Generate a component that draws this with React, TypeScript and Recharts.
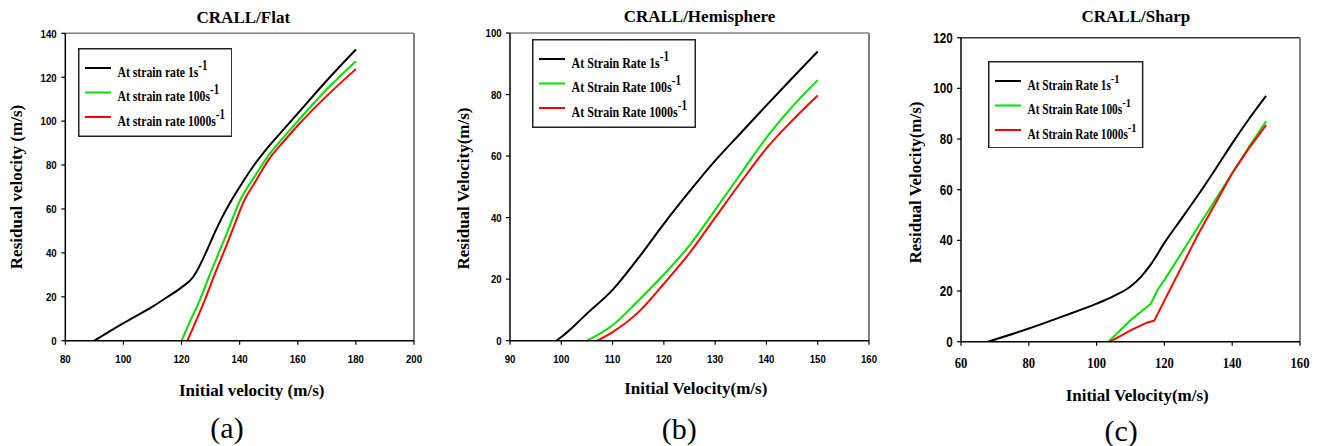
import React from 'react';
import { LineChart, Line, XAxis, YAxis, ReferenceLine, Legend } from 'recharts';

// ---------- data (x: initial velocity, y: residual velocity) ----------
const flatRate1 = [[90, 0], [100, 8], [110, 15.5], [115, 19.8], [120, 24.3], [124, 29], [126, 33.5], [128, 39], [131, 48], [134, 56.3], [137, 63.5], [140, 70], [145, 80], [150, 88.5], [155, 96], [160, 103.5], [170, 118.5], [180, 132.6]];
const flatRate100 = [[120, 0], [123, 9], [126.3, 18.5], [130, 31], [133.2, 41.2], [136.5, 52], [140, 63.5], [145, 74.5], [150, 84.5], [155, 92.5], [160, 100], [170, 114.5], [180, 127.3]];
const flatRate1000 = [[122, 0], [125, 9], [128, 18.5], [131.5, 30.5], [134.8, 41.2], [138, 52], [141.6, 63.9], [145, 71.5], [150, 82.5], [155, 90.5], [160, 98], [170, 111.5], [180, 123.7]];

const hemiRate1 = [[99, 0], [100, 1.2], [105, 8.8], [110, 16.5], [115, 26.8], [120, 38], [125, 48.5], [130, 58.5], [135, 67.5], [140, 76.5], [145, 85.3], [150, 94]];
const hemiRate100 = [[105, 0], [110, 5], [115, 13], [120, 21.5], [125, 31], [130, 42.5], [135, 54.3], [140, 66], [145, 76], [150, 84.7]];
const hemiRate1000 = [[107, 0], [110, 2.8], [115, 9.2], [120, 18.5], [125, 28.5], [130, 40], [135, 51.5], [140, 62.5], [145, 71.5], [150, 79.7]];

const sharpRate1 = [[68, 0], [80, 5.2], [90, 10], [100, 15], [105, 18], [110, 21.8], [113, 25.5], [116, 30.5], [120, 39], [125, 48.5], [130, 58], [135, 68], [140, 78.3], [145, 88], [150, 97]];
const sharpRate100 = [[103.5, 0], [110, 8.5], [116, 15], [118, 20.5], [120, 24.3], [130, 45.5], [140, 66.5], [145, 77], [150, 87]];
const sharpRate1000 = [[104, 0], [110, 4.5], [115, 7.6], [117, 8.3], [120, 16.2], [130, 42.5], [140, 66.5], [145, 76.5], [150, 85.5]];

const flatXTicks = [80, 100, 120, 140, 160, 180, 200];
const flatYTicks = [0, 20, 40, 60, 80, 100, 120, 140];
const hemiXTicks = [90, 100, 110, 120, 130, 140, 150, 160];
const hemiYTicks = [0, 20, 40, 60, 80, 100];
const sharpXTicks = [60, 80, 100, 120, 140, 160];
const sharpYTicks = [0, 20, 40, 60, 80, 100, 120];

const flatLegend = ['At strain rate 1s', 'At strain rate 100s', 'At strain rate 1000s'];
const capLegend = ['At Strain Rate 1s', 'At Strain Rate 100s', 'At Strain Rate 1000s'];
const seriesColors = ['#000000', '#00e000', '#ff0000'];

const toPts = (arr: number[][]) => arr.map(([x, y]) => ({ x, y }));

const SERIF = "'Liberation Serif', 'Times New Roman', serif";
const SANS = "'Liberation Sans', Arial, sans-serif";

const makeTick = (axis: 'x' | 'y', family: string, size: number, sx: number) => (props: any) => {
  const { x, y, payload } = props;
  return (
    <g transform={`translate(${x},${y})`}>
      <text
        transform={`scale(${sx},1)`}
        textAnchor={axis === 'x' ? 'middle' : 'end'}
        dominantBaseline="central"
        fontFamily={family}
        fontWeight="bold"
        fontSize={size}
        fill="#000"
      >
        {payload.value}
      </text>
    </g>
  );
};

type PanelProps = {
  left: number;
  width: number;
  margin: { top: number; right: number; bottom: number; left: number };
  xDomain: [number, number];
  yDomain: [number, number];
  xTicks: number[];
  yTicks: number[];
  series: number[][][];
  curves: ('monotone' | 'linear')[];
  labels: string[];
  legendBox: { left: number; top: number; width: number; height: number; fontSize: number; sx: number };
  xTick: (p: any) => any;
  yTick: (p: any) => any;
  xTickMargin: number;
  yTickMargin: number;
  topColor: string;
};

const LegendBox = ({ labels, box }: { labels: string[]; box: PanelProps['legendBox'] }) => {
  const rows = [20, 44.5, 69];
  return (
    <svg width={box.width} height={box.height} style={{ display: 'block' }}>
      <rect x={0.75} y={0.75} width={box.width - 1.5} height={box.height - 1.5} fill="#fff" stroke="#222" strokeWidth={1.5} />
      {labels.map((lab, i) => (
        <g key={lab}>
          <line x1={7} x2={33} y1={rows[i]} y2={rows[i]} stroke={seriesColors[i]} strokeWidth={2} />
          <text
            transform={`translate(39.5,${rows[i] + 8.5}) scale(${box.sx},1)`}
            fontFamily={SERIF}
            fontWeight="bold"
            fontSize={box.fontSize}
            fill="#000"
          >
            <tspan>{lab}</tspan>
            <tspan dy={-7} fontSize={box.fontSize - 1}>-1</tspan>
          </text>
        </g>
      ))}
    </svg>
  );
};

const Panel = (p: PanelProps) => (
  <div style={{ position: 'absolute', left: p.left, top: 0 }}>
    <LineChart width={p.width} height={446} margin={p.margin}>
      <XAxis
        type="number"
        dataKey="x"
        domain={p.xDomain}
        ticks={p.xTicks}
        allowDataOverflow
        height={30}
        axisLine={{ stroke: '#000', strokeWidth: 1.5 }}
        tickLine={{ stroke: '#000', strokeWidth: 1.2 }}
        tickSize={4}
        tickMargin={p.xTickMargin}
        tick={p.xTick}
        interval={0}
      />
      <YAxis
        type="number"
        dataKey="y"
        domain={p.yDomain}
        ticks={p.yTicks}
        allowDataOverflow
        width={60}
        axisLine={{ stroke: '#000', strokeWidth: 1.5 }}
        tickLine={{ stroke: '#000', strokeWidth: 1.2 }}
        tickSize={4}
        tickMargin={p.yTickMargin}
        tick={p.yTick}
        interval={0}
      />
      <ReferenceLine y={p.yDomain[1]} stroke={p.topColor} strokeWidth={1.5} />
      <ReferenceLine x={p.xDomain[1]} stroke="#808080" strokeWidth={2} />
      {p.series.map((s, i) => (
        <Line
          key={p.labels[i]}
          name={p.labels[i]}
          data={toPts(s)}
          dataKey="y"
          type={p.curves[i]}
          stroke={seriesColors[i]}
          strokeWidth={2}
          dot={false}
          activeDot={false}
          isAnimationActive={false}
        />
      ))}
      <Legend
        layout="vertical"
        align="center"
        verticalAlign="middle"
        wrapperStyle={{ left: p.legendBox.left, top: p.legendBox.top, width: p.legendBox.width, height: p.legendBox.height }}
        content={() => <LegendBox labels={p.labels} box={p.legendBox} />}
      />
    </LineChart>
  </div>
);

const texts = [
  // titles
  { t: 'CRALL/Flat', x: 243.3, y: 17, size: 17, bold: true, rot: false },
  { t: 'CRALL/Hemisphere', x: 699.5, y: 16.5, size: 17, bold: true, rot: false },
  { t: 'CRALL/Sharp', x: 1135.8, y: 16.5, size: 17, bold: true, rot: false },
  // y labels
  { t: 'Residual velocity (m/s)', x: 16.7, y: 187, size: 17, bold: true, rot: true },
  { t: 'Residual Velocity(m/s)', x: 463, y: 188.5, size: 17, bold: true, rot: true },
  { t: 'Residual Velocity(m/s)', x: 915, y: 182.5, size: 17, bold: true, rot: true },
  // x labels
  { t: 'Initial velocity (m/s)', x: 251.7, y: 390, size: 17, bold: true, rot: false },
  { t: 'Initial Velocity(m/s)', x: 695.8, y: 388.3, size: 17, bold: true, rot: false },
  { t: 'Initial Velocity(m/s)', x: 1137.2, y: 395, size: 17, bold: true, rot: false },
  // captions
  { t: '(a)', x: 227, y: 427.5, size: 30, bold: false, rot: false },
  { t: '(b)', x: 679.2, y: 428, size: 30, bold: false, rot: false },
  { t: '(c)', x: 1121.2, y: 430, size: 30, bold: false, rot: false },
];

export default function App() {
  return (
    <div style={{ position: 'absolute', left: 0, top: 0, width: 1318, height: 446, background: '#fff', overflow: 'hidden' }}>
      <Panel
        left={0}
        width={440}
        margin={{ top: 33.3, right: 26, bottom: 75.3, left: 5.3 }}
        xDomain={[80, 200]}
        yDomain={[0, 140]}
        xTicks={flatXTicks}
        yTicks={flatYTicks}
        series={[flatRate1, flatRate100, flatRate1000]}
        curves={['monotone', 'monotone', 'monotone']}
        labels={flatLegend}
        legendBox={{ left: 77.7, top: 47.7, width: 154.6, height: 89, fontSize: 15, sx: 0.78 }}
        xTick={makeTick('x', SANS, 11.5, 0.84)}
        yTick={makeTick('y', SANS, 11.5, 0.84)}
        xTickMargin={14}
        yTickMargin={4.6}
        topColor="#808080"
      />
      <Panel
        left={440}
        width={440}
        margin={{ top: 33, right: 11, bottom: 75.3, left: 10 }}
        xDomain={[90, 160]}
        yDomain={[0, 100]}
        xTicks={hemiXTicks}
        yTicks={hemiYTicks}
        series={[hemiRate1, hemiRate100, hemiRate1000]}
        curves={['monotone', 'monotone', 'monotone']}
        labels={capLegend}
        legendBox={{ left: 92.3, top: 39.3, width: 164, height: 89, fontSize: 15, sx: 0.8 }}
        xTick={makeTick('x', SANS, 11.5, 0.84)}
        yTick={makeTick('y', SANS, 11.5, 0.84)}
        xTickMargin={14}
        yTickMargin={4.3}
        topColor="#808080"
      />
      <Panel
        left={880}
        width={438}
        margin={{ top: 37.7, right: 18, bottom: 74.3, left: 21 }}
        xDomain={[60, 160]}
        yDomain={[0, 120]}
        xTicks={sharpXTicks}
        yTicks={sharpYTicks}
        series={[sharpRate1, sharpRate100, sharpRate1000]}
        curves={['monotone', 'linear', 'linear']}
        labels={capLegend}
        legendBox={{ left: 108.3, top: 60.7, width: 155.4, height: 87.6, fontSize: 14, sx: 0.81 }}
        xTick={makeTick('x', SERIF, 14, 0.9)}
        yTick={makeTick('y', SANS, 14, 0.83)}
        xTickMargin={17.6}
        yTickMargin={4.3}
        topColor="#333333"
      />
      <svg width={1318} height={446} style={{ position: 'absolute', left: 0, top: 0, pointerEvents: 'none' }}>
        {texts.map((d, i) => (
          <text
            key={i}
            transform={`translate(${d.x},${d.y})${d.rot ? ' rotate(-90)' : ''}`}
            textAnchor="middle"
            dominantBaseline="central"
            fontFamily={SERIF}
            fontWeight={d.bold ? 'bold' : 'normal'}
            fontSize={d.size}
            fill="#000"
          >
            {d.t}
          </text>
        ))}
      </svg>
    </div>
  );
}
